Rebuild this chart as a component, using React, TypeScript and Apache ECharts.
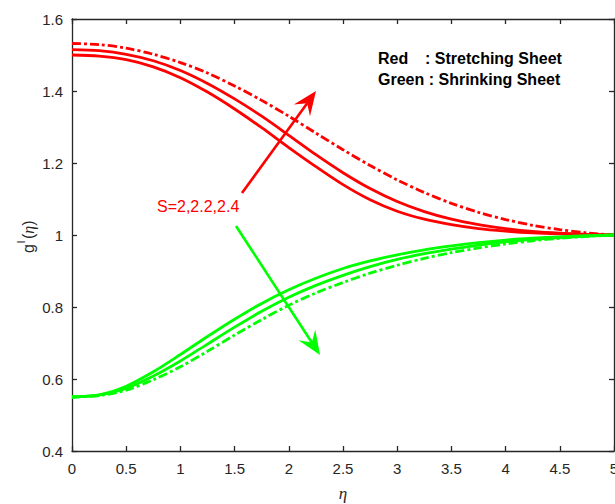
import React, { useEffect, useRef } from "react";
import * as echarts from "echarts";

const eta = [0, 0.25, 0.5, 0.75, 1, 1.25, 1.5, 1.75, 2, 2.25, 2.5, 2.75, 3, 3.25, 3.5, 3.75, 4, 4.25, 4.5, 4.75, 5];

// Red: stretching sheet (S = 2, 2.2, 2.4)
const redS20 = [1.5, 1.497, 1.487, 1.467, 1.437, 1.397, 1.35, 1.298, 1.243, 1.19, 1.14, 1.098, 1.066, 1.044, 1.029, 1.018, 1.011, 1.006, 1.003, 1.001, 1.0];
const redS22 = [1.515, 1.512, 1.502, 1.484, 1.457, 1.421, 1.378, 1.33, 1.277, 1.223, 1.173, 1.129, 1.093, 1.065, 1.044, 1.029, 1.018, 1.01, 1.005, 1.002, 1.0];
const redS24 = [1.532, 1.529, 1.519, 1.502, 1.479, 1.45, 1.414, 1.374, 1.33, 1.283, 1.237, 1.193, 1.153, 1.118, 1.088, 1.063, 1.043, 1.027, 1.015, 1.006, 1.0];

// Green: shrinking sheet (S = 2, 2.2, 2.4)
const greenS20 = [0.55, 0.556, 0.58, 0.62, 0.668, 0.718, 0.766, 0.81, 0.848, 0.88, 0.907, 0.928, 0.945, 0.959, 0.97, 0.979, 0.986, 0.991, 0.995, 0.998, 1.0];
const greenS22 = [0.55, 0.555, 0.574, 0.608, 0.65, 0.697, 0.744, 0.788, 0.827, 0.86, 0.888, 0.912, 0.932, 0.948, 0.961, 0.972, 0.981, 0.988, 0.993, 0.997, 1.0];
const greenS24 = [0.55, 0.554, 0.569, 0.598, 0.634, 0.677, 0.722, 0.765, 0.805, 0.839, 0.868, 0.894, 0.916, 0.935, 0.951, 0.964, 0.975, 0.984, 0.991, 0.996, 1.0];

const xTicks = { min: 0, max: 5, interval: 0.5 };
const yTicks = { min: 0.4, max: 1.6, interval: 0.2 };

const RED = "#ff0000";
const GREEN = "#00ff00";
const AXIS = "#262626";
const FONT = "'Liberation Sans', Arial, Helvetica, sans-serif";

function pairs(ys: number[]) {
  return eta.map((x, i) => [x, ys[i]]);
}

function arrow(x1: number, y1: number, x2: number, y2: number, color: string) {
  const dx = x2 - x1;
  const dy = y2 - y1;
  const L = Math.hypot(dx, dy);
  const ux = dx / L;
  const uy = dy / L;
  const px = -uy;
  const py = ux;
  const headLen = 24;
  const headW = 10;
  const notch = 15;
  const bx = x2 - ux * headLen;
  const by = y2 - uy * headLen;
  const nx = x2 - ux * notch;
  const ny = y2 - uy * notch;
  return [
    { type: "line", z: 100, shape: { x1, y1, x2: nx, y2: ny }, style: { stroke: color, lineWidth: 2.6 } },
    {
      type: "polygon",
      z: 100,
      shape: {
        points: [
          [x2, y2],
          [bx + px * headW, by + py * headW],
          [nx, ny],
          [bx - px * headW, by - py * headW],
        ],
      },
      style: { fill: color },
    },
  ];
}

function mkSeries(name: string, ys: number[], color: string, dashed: boolean) {
  return {
    name,
    type: "line",
    data: pairs(ys),
    smooth: 0.3,
    showSymbol: false,
    symbol: "none",
    lineStyle: { color, width: 2.8, type: dashed ? [9, 3, 3, 3] : "solid" },
    xAxisIndex: 0,
    yAxisIndex: 0,
  };
}

const fmtY = (v: number) => String(Number(v.toFixed(1)));
const fmtX = (v: number) => String(Number(v.toFixed(1)));

export default function App() {
  const ref = useRef<HTMLDivElement>(null);
  useEffect(() => {
    if (!ref.current) return;
    const chart = echarts.init(ref.current, undefined, { renderer: "svg" });
    const axisLine = { show: true, onZero: false, lineStyle: { color: AXIS, width: 1.3 } };
    const axisTick = { show: true, inside: true, length: 5, lineStyle: { color: AXIS, width: 1.3 } };
    chart.setOption({
      animation: false,
      backgroundColor: "#ffffff",
      grid: { left: 72, right: 1, top: 19, bottom: 53, outerBoundsMode: "none", containLabel: false },
      xAxis: [
        {
          type: "value",
          ...xTicks,
          position: "bottom",
          axisLine,
          axisTick,
          splitLine: { show: false },
          axisLabel: { color: AXIS, fontSize: 15, fontFamily: FONT, margin: 10, formatter: fmtX, showMaxLabel: true, showMinLabel: true },
          name: "η",
          nameLocation: "middle",
          nameGap: 34,
          nameTextStyle: { color: AXIS, fontSize: 17, fontStyle: "italic", fontFamily: "'Liberation Serif', 'DejaVu Serif', serif" },
        },
        {
          type: "value",
          ...xTicks,
          position: "top",
          axisLine,
          axisTick,
          splitLine: { show: false },
          axisLabel: { show: false },
        },
      ],
      yAxis: [
        {
          type: "value",
          ...yTicks,
          position: "left",
          axisLine,
          axisTick,
          splitLine: { show: false },
          axisLabel: { color: AXIS, fontSize: 15, fontFamily: FONT, margin: 9, formatter: fmtY },
        },
        {
          type: "value",
          ...yTicks,
          position: "right",
          axisLine,
          axisTick,
          splitLine: { show: false },
          axisLabel: { show: false },
        },
      ],
      series: [
        mkSeries("Stretching S=2", redS20, RED, false),
        mkSeries("Stretching S=2.2", redS22, RED, false),
        mkSeries("Stretching S=2.4", redS24, RED, true),
        mkSeries("Shrinking S=2", greenS20, GREEN, false),
        mkSeries("Shrinking S=2.2", greenS22, GREEN, false),
        mkSeries("Shrinking S=2.4", greenS24, GREEN, true),
      ],
      graphic: [
        {
          type: "group",
          x: 28,
          y: 234,
          rotation: Math.PI / 2,
          children: [
            { type: "text", x: -19, y: 0, style: { text: "g", fontSize: 16, fontFamily: FONT, fill: AXIS, verticalAlign: "middle", align: "left" } },
            { type: "text", x: -9.5, y: -7, style: { text: "I", fontSize: 11, fontFamily: FONT, fill: AXIS, verticalAlign: "middle", align: "left" } },
            {
              type: "text",
              x: -5,
              y: 0,
              style: {
                text: "({e|η})",
                rich: { e: { fontSize: 16, fontStyle: "italic", fontFamily: "'Liberation Serif', 'DejaVu Serif', serif", fill: AXIS } },
                fontSize: 16,
                fontFamily: FONT,
                fill: AXIS,
                verticalAlign: "middle",
                align: "left",
              },
            },
          ],
        },
        { type: "text", x: 378, y: 58, style: { text: "Red", fontSize: 16, fontWeight: "bold", fontFamily: FONT, fill: "#000", verticalAlign: "middle" } },
        { type: "text", x: 425, y: 58, style: { text: ": Stretching Sheet", fontSize: 16, fontWeight: "bold", fontFamily: FONT, fill: "#000", verticalAlign: "middle" } },
        { type: "text", x: 378, y: 79, style: { text: "Green : Shrinking Sheet", fontSize: 16, fontWeight: "bold", fontFamily: FONT, fill: "#000", verticalAlign: "middle" } },
        { type: "text", x: 157, y: 206, style: { text: "S=2,2.2,2.4", fontSize: 16, fontFamily: FONT, fill: RED, verticalAlign: "middle" } },
        ...arrow(242, 193, 316, 91, RED),
        ...arrow(236, 226, 320, 355, GREEN),
      ],
    });
    return () => chart.dispose();
  }, []);
  return <div ref={ref} style={{ position: "fixed", left: 0, top: 0, width: 615, height: 504, background: "#fff" }} />;
}
